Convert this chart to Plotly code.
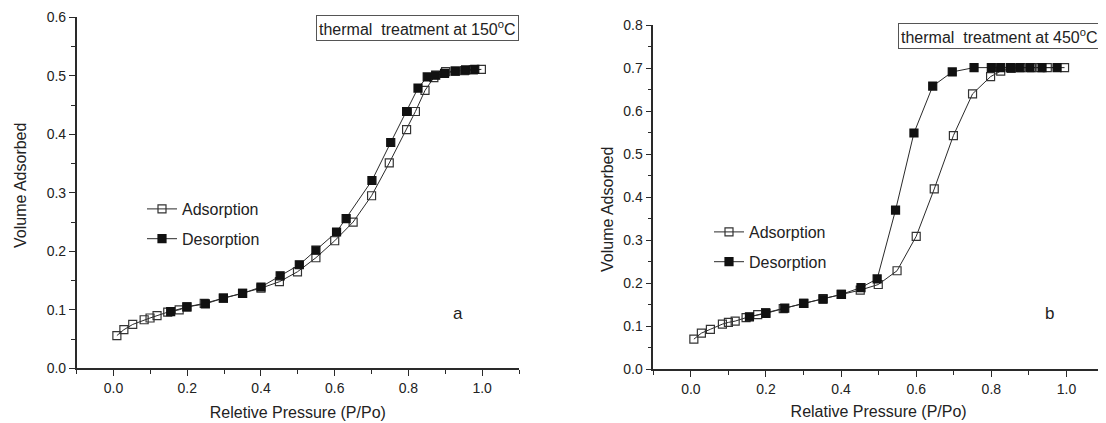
import plotly.graph_objects as go

# ---- Panel a (150 C) ----
a_ads_x = [0.009, 0.028, 0.052, 0.083, 0.099, 0.118, 0.147, 0.178, 0.199, 0.246, 0.298, 0.350, 0.400,
           0.450, 0.499, 0.549, 0.600, 0.650, 0.700, 0.748, 0.795, 0.819, 0.845, 0.869, 0.901, 0.927,
           0.952, 0.976, 0.998]
a_ads_y = [0.056, 0.066, 0.075, 0.083, 0.086, 0.090, 0.096, 0.100, 0.105, 0.111, 0.120, 0.128, 0.137,
           0.148, 0.165, 0.189, 0.218, 0.250, 0.295, 0.351, 0.408, 0.439, 0.475, 0.497, 0.507, 0.508,
           0.509, 0.510, 0.511]
a_des_x = [0.980, 0.955, 0.927, 0.898, 0.874, 0.851, 0.826, 0.795, 0.752, 0.701, 0.631, 0.605, 0.549,
           0.504, 0.452, 0.400, 0.350, 0.298, 0.249, 0.199, 0.155]
a_des_y = [0.511, 0.510, 0.508, 0.504, 0.501, 0.498, 0.479, 0.439, 0.386, 0.321, 0.256, 0.233, 0.202,
           0.177, 0.158, 0.139, 0.128, 0.120, 0.110, 0.105, 0.097]

# ---- Panel b (450 C) ----
b_ads_x = [0.008, 0.028, 0.052, 0.084, 0.100, 0.118, 0.147, 0.178, 0.199, 0.246, 0.300, 0.352, 0.400,
           0.451, 0.499, 0.549, 0.600, 0.648, 0.699, 0.750, 0.798, 0.825, 0.853, 0.879, 0.907, 0.930,
           0.949, 0.995]
b_ads_y = [0.070, 0.084, 0.093, 0.105, 0.109, 0.112, 0.120, 0.127, 0.132, 0.141, 0.153, 0.164, 0.174,
           0.184, 0.197, 0.229, 0.309, 0.419, 0.543, 0.640, 0.680, 0.693, 0.699, 0.701, 0.701, 0.701,
           0.701, 0.701]
b_des_x = [0.975, 0.935, 0.903, 0.876, 0.851, 0.825, 0.800, 0.754, 0.696, 0.644, 0.594, 0.545, 0.496,
           0.453, 0.401, 0.352, 0.301, 0.250, 0.200, 0.156]
b_des_y = [0.701, 0.701, 0.701, 0.701, 0.701, 0.701, 0.701, 0.701, 0.691, 0.658, 0.549, 0.370, 0.210,
           0.190, 0.174, 0.163, 0.153, 0.142, 0.130, 0.122]

series_names = ["Adsorption", "Desorption"]
x_title_a = "Reletive Pressure (P/Po)"
x_title_b = "Relative Pressure (P/Po)"
y_title = "Volume Adsorbed"
box_a = "thermal\u00a0\u00a0treatment at 150<sup>o</sup>C"
box_b = "thermal\u00a0\u00a0treatment at 450<sup>o</sup>C"

FONT = "Liberation Sans, Arial, sans-serif"
OFF = 8  # default page body margin
W, H = 1106 - OFF, 423 - OFF
LINE = "#2a2a2a"
TXT = "#222222"

fig = go.Figure()

def add(x, y, name, filled, xa, ya, legend):
    fig.add_trace(go.Scatter(
        x=x, y=y, name=name, mode="lines+markers",
        xaxis=xa, yaxis=ya, legend=legend, legendgroup=legend + name,
        line=dict(color=LINE, width=1),
        marker=dict(symbol="square" if filled else "square-open", size=8,
                    color="#111111" if filled else "#333333",
                    line=dict(color="#111111" if filled else "#333333", width=1.2)),
    ))

add(a_ads_x, a_ads_y, series_names[0], False, "x", "y", "legend")
add(a_des_x, a_des_y, series_names[1], True, "x", "y", "legend")
add(b_ads_x, b_ads_y, series_names[0], False, "x2", "y2", "legend2")
add(b_des_x, b_des_y, series_names[1], True, "x2", "y2", "legend2")

def px_x(p):
    return (p - OFF) / W

def px_y(p):
    return (H - (p - OFF)) / H

TITLE_FONT = dict(family=FONT, size=16, color=TXT)

def axis(domain, rng, dtick, minor_dtick, anchor, title, standoff):
    d = dict(
        domain=domain, range=rng, tick0=0, dtick=dtick, tickformat=".1f", anchor=anchor,
        automargin=False,
        showline=True, linecolor=LINE, linewidth=1.5, mirror=False,
        ticks="outside", ticklen=6, tickwidth=1.2, tickcolor=LINE,
        showgrid=False, zeroline=False,
        tickfont=dict(family=FONT, size=14, color=TXT),
        minor=dict(dtick=minor_dtick, tick0=0, ticks="outside", ticklen=3.5,
                   tickcolor=LINE, tickwidth=1.2),
    )
    if title:
        d["title"] = dict(text=title, standoff=standoff, font=TITLE_FONT)
    return d

fig.update_layout(
    width=W, height=H,
    paper_bgcolor="white", plot_bgcolor="white",
    margin=dict(l=0, r=0, t=0, b=0, autoexpand=False),
    font=dict(family=FONT, color=TXT, size=16),
    xaxis=axis([px_x(76.7), px_x(519)], [-0.1, 1.1], 0.2, 0.1, "y", x_title_a, 12),
    yaxis=axis([px_y(368.3), px_y(17.3)], [0, 0.6], 0.1, 0.05, "x", None, 0),
    xaxis2=axis([px_x(653.3), px_x(1104)], [-0.1, 1.1], 0.2, 0.1, "y2", x_title_b, 10),
    yaxis2=axis([px_y(369.3), px_y(25)], [0, 0.8], 0.1, 0.05, "x2", None, 0),
    legend=dict(x=px_x(142), y=px_y(192), xanchor="left", yanchor="top",
                bgcolor="rgba(0,0,0,0)", tracegroupgap=6,
                font=dict(family=FONT, size=16, color=TXT)),
    legend2=dict(x=px_x(709), y=px_y(215), xanchor="left", yanchor="top",
                 bgcolor="rgba(0,0,0,0)", tracegroupgap=6,
                 font=dict(family=FONT, size=16, color=TXT)),
    showlegend=True,
)

# y-axis titles (placed as in the reference, slightly off the domain centre)
fig.add_annotation(xref="paper", yref="paper", x=px_x(20), y=px_y(186), xanchor="center", yanchor="middle",
                   text=y_title, textangle=-90, showarrow=False, font=TITLE_FONT)
fig.add_annotation(xref="paper", yref="paper", x=px_x(607), y=px_y(210), xanchor="center", yanchor="middle",
                   text=y_title, textangle=-90, showarrow=False, font=TITLE_FONT)

fig.add_annotation(xref="paper", yref="paper", x=px_x(316), y=px_y(28), xanchor="left", yanchor="middle",
                   text=box_a, showarrow=False, bordercolor="#555555", borderwidth=1, borderpad=2,
                   bgcolor="white", font=dict(family=FONT, size=16, color=TXT))
fig.add_annotation(xref="paper", yref="paper", x=px_x(898), y=px_y(36), xanchor="left", yanchor="middle",
                   text=box_b, showarrow=False, bordercolor="#555555", borderwidth=1, borderpad=2,
                   bgcolor="white", font=dict(family=FONT, size=16, color=TXT))
fig.add_annotation(xref="paper", yref="paper", x=px_x(458), y=px_y(313), xanchor="center", yanchor="middle",
                   text="a", showarrow=False, font=dict(family=FONT, size=17, color=TXT))
fig.add_annotation(xref="paper", yref="paper", x=px_x(1049.5), y=px_y(313), xanchor="center", yanchor="middle",
                   text="b", showarrow=False, font=dict(family=FONT, size=17, color=TXT))

fig.write_html("out.html")
